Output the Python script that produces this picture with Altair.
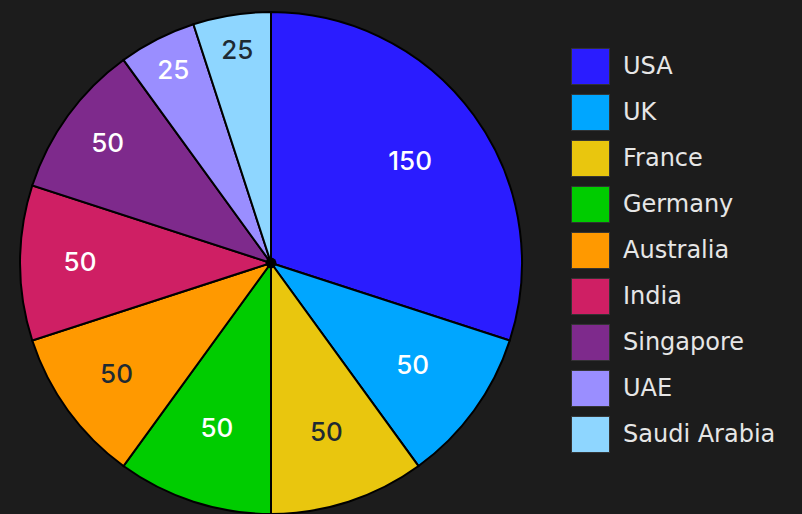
import altair as alt
import pandas as pd

countries = ["USA", "UK", "France", "Germany", "Australia", "India", "Singapore", "UAE", "Saudi Arabia"]
values = [150, 50, 50, 50, 50, 50, 50, 25, 25]
colors = ["#2a1cff", "#00a6ff", "#e9c60e", "#00cc00", "#ff9900", "#cf1f64", "#7e2a8c", "#9a8eff", "#8ed6ff"]
label_colors = ["#ffffff", "#ffffff", "#1e2a33", "#ffffff", "#1e2a33", "#ffffff", "#ffffff", "#ffffff", "#1e2a33"]

df = pd.DataFrame({
    "country": countries,
    "value": values,
    "idx": list(range(len(countries))),
    "tcol": label_colors,
})

CX, CY = 271, 263

pie = alt.Chart(df).mark_arc(outerRadius=251, stroke="#000000", strokeWidth=2).encode(
    theta=alt.Theta("value:Q", stack=True),
    order=alt.Order("idx:Q"),
    x=alt.value(CX),
    y=alt.value(CY),
    color=alt.Color(
        "country:N",
        sort=countries,
        scale=alt.Scale(domain=countries, range=colors),
        legend=alt.Legend(
            title=None,
            orient="none",
            legendX=571,
            legendY=47,
            padding=0,
            symbolType="M-1,-0.95H1V0.95H-1Z",
            symbolSize=1444,
            symbolStrokeWidth=1,
            symbolStrokeColor="#333333",
            symbolOpacity=1,
            labelFont="DejaVu Sans",
            labelFontSize=24,
            labelColor="#e6e6e6",
            labelOffset=13,
            rowPadding=5,
            labelLimit=300,
        ),
    ),
)

center = alt.Chart(pd.DataFrame({"a": [0]})).mark_point(
    filled=True, color="#000000", size=120, opacity=1
).encode(x=alt.value(CX), y=alt.value(CY))

# label rings: small slices have their labels further out
groups = [
    (["USA"], 172),
    (["UK", "Germany"], 175),
    (["France"], 179),
    (["Australia", "India"], 191),
    (["Singapore"], 202),
    (["UAE", "Saudi Arabia"], 215),
]

texts = []
for names, r in groups:
    texts.append(
        alt.Chart(df)
        .transform_joinaggregate(total="sum(value)")
        .transform_stack(stack="value", groupby=[], as_=["v0", "v1"], sort=[alt.SortField("idx")])
        .transform_calculate(mid="(datum.v0 + datum.v1) / 2 / datum.total * 2 * PI")
        .transform_filter(alt.FieldOneOfPredicate(field="country", oneOf=names))
        .mark_text(radius=r, font="Inter", fontSize=26, fontWeight=500)
        .encode(
            theta=alt.Theta("mid:Q", scale=None),
            x=alt.value(CX),
            y=alt.value(CY),
            text=alt.Text("value:Q"),
            color=alt.Color("tcol:N", scale=None),
        )
    )

chart = alt.layer(pie, center, *texts).properties(
    width=802,
    height=514,
    background="#1c1c1c",
    padding=0,
    autosize=alt.AutoSizeParams(type="none"),
).configure_view(stroke=None)

chart.save("out.html", embed_options={"renderer": "svg", "actions": False})
